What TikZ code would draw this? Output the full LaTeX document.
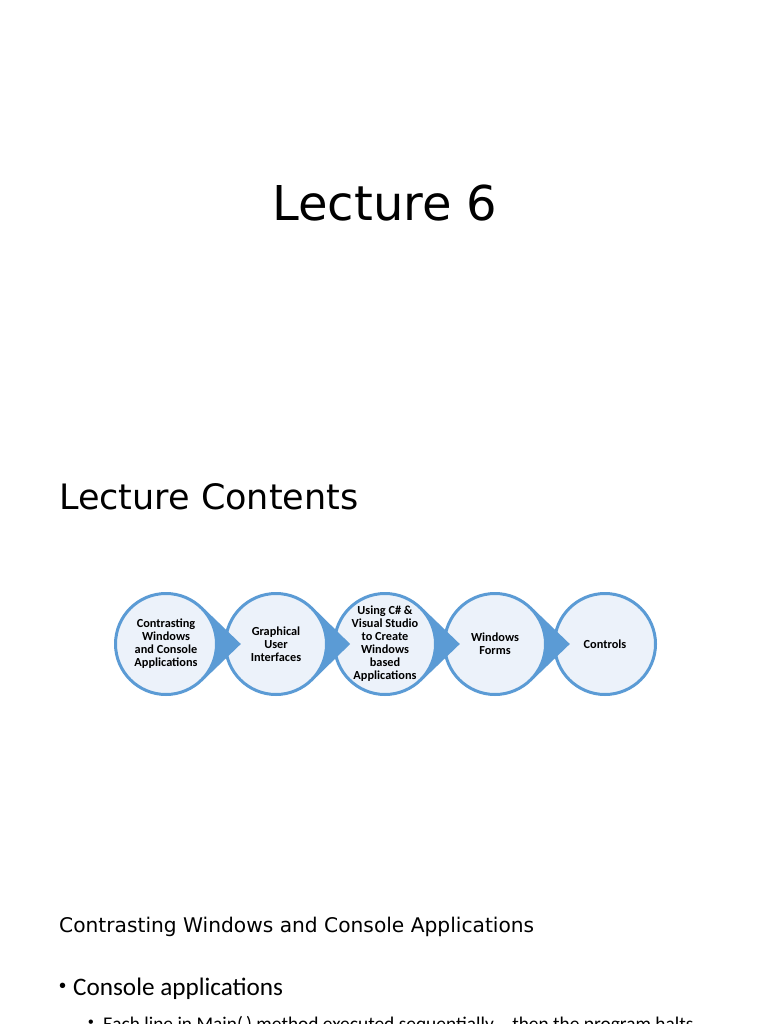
\documentclass[tikz,border=0pt]{standalone}
\usepackage{fontspec}
\setmainfont{DejaVu Sans}
\newfontfamily\carlito{Carlito}
\newfontfamily\arialfont{Liberation Sans}
\usetikzlibrary{calc}
\definecolor{ringblue}{RGB}{91,155,213}
\definecolor{ringfill}{RGB}{236,242,250}
\begin{document}
\begin{tikzpicture}[x=1pt,y=-1pt,
  stage/.style={circle, draw=ringblue, fill=ringfill, line width=3pt,
    minimum size=101pt, inner sep=0pt, align=center,
    font=\carlito\bfseries\fontsize{12.3}{13}\selectfont},
  pointer/.style={fill=ringblue},
  txt/.style={inner sep=0pt, anchor=base west}]
\useasboundingbox (0,0) rectangle (768,1024);
\clip (0,0) rectangle (768,1024);
\fill[white] (0,0) rectangle (768,1024);

% titles
\node[inner sep=0pt, anchor=base, font=\fontsize{48}{56}\selectfont] (title) at (385,221) {Lecture 6};
\node[txt, font=\fontsize{35}{42}\selectfont] (contents) at (59,509) {Lecture Contents};

% circle centres
\coordinate (o1) at (166,644);
\coordinate (o2) at (276,644);
\coordinate (o3) at (385,644);
\coordinate (o4) at (495,644);
\coordinate (o5) at (605,644);

\node[stage] (c5) at (o5) {Controls};
\fill[pointer] ($(o4)+(36,-37.4)$) -- ($(o4)!0.68!(o5)$) coordinate (t4) -- ($(o4)+(36,37.4)$) -- cycle;
\node[stage] (c4) at (o4) {Windows\\Forms};
\fill[pointer] ($(o3)+(36,-37.4)$) -- ($(o3)!0.68!(o4)$) coordinate (t3) -- ($(o3)+(36,37.4)$) -- cycle;
\node[stage] (c3) at (o3) {Using C\# \&\\Visual Studio\\to Create\\Windows\\based\\Applications};
\fill[pointer] ($(o2)+(36,-37.4)$) -- ($(o2)!0.68!(o3)$) coordinate (t2) -- ($(o2)+(36,37.4)$) -- cycle;
\node[stage] (c2) at (o2) {Graphical\\User\\Interfaces};
\fill[pointer] ($(o1)+(36,-37.4)$) -- ($(o1)!0.68!(o2)$) coordinate (t1) -- ($(o1)+(36,37.4)$) -- cycle;
\node[stage] (c1) at (o1) {Contrasting\\Windows\\and Console\\Applications};

% lower slide
\node[txt, font=\fontsize{20.2}{24}\selectfont] (heading) at (59,932) {Contrasting Windows and Console Applications};
\node[txt, font=\arialfont\fontsize{20}{22}\selectfont] (b1) at (59,992) {•};
\node[txt, font=\carlito\fontsize{25.2}{30}\selectfont] (item1) at (73,995) {Console applications};
\node[txt, font=\arialfont\fontsize{16}{18}\selectfont] (b2) at (88,1027) {•};
\node[txt, font=\carlito\fontsize{19.4}{24}\selectfont] (item2) at (103,1030) {Each line in Main(\,) method executed sequentially – then the program halts};
\end{tikzpicture}
\end{document}
